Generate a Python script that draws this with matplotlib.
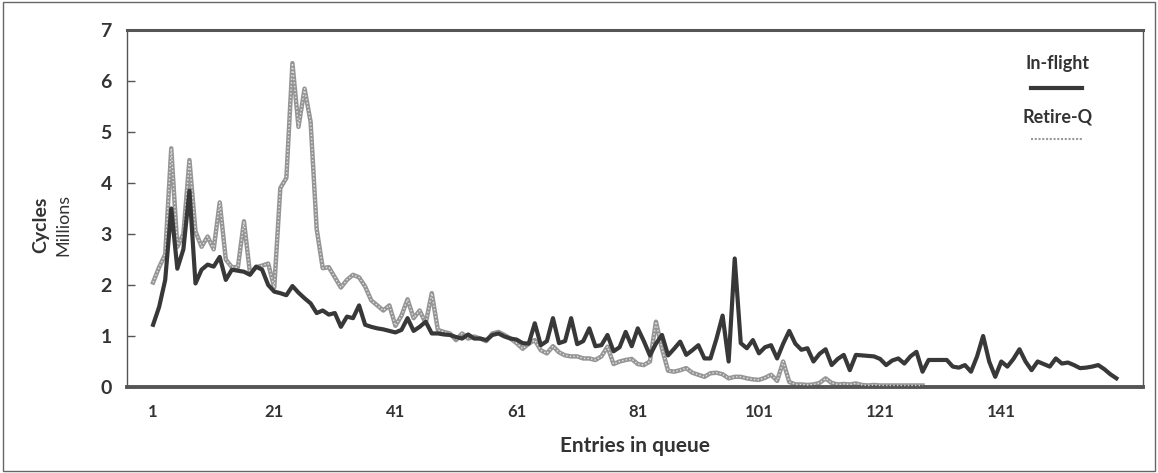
import matplotlib.pyplot as plt
from matplotlib.patches import Rectangle

# 큐 엔트리별 사이클 수 (단위: 백만)
in_flight = [
    1.22, 1.57, 2.1, 3.5, 2.32, 2.7, 3.85, 2.03, 2.3, 2.4,
    2.36, 2.55, 2.1, 2.3, 2.28, 2.26, 2.2, 2.36, 2.3, 2.0,
    1.87, 1.84, 1.8, 1.98, 1.85, 1.74, 1.64, 1.45, 1.5, 1.42,
    1.45, 1.18, 1.38, 1.35, 1.6, 1.22, 1.18, 1.15, 1.13, 1.1,
    1.07, 1.12, 1.35, 1.1, 1.18, 1.28, 1.05, 1.05, 1.03, 1.02,
    0.98, 0.95, 1.03, 0.95, 0.95, 0.92, 1.02, 1.05, 0.99, 0.95,
    0.93, 0.86, 0.85, 1.25, 0.82, 0.9, 1.35, 0.86, 0.9, 1.35,
    0.84, 0.9, 1.15, 0.8, 0.82, 1.02, 0.7, 0.78, 1.08, 0.8,
    1.15, 0.9, 0.62, 0.85, 1.02, 0.62, 0.75, 0.89, 0.63, 0.72,
    0.82, 0.56, 0.56, 0.95, 1.4, 0.5, 2.52, 0.86, 0.76, 0.92,
    0.66, 0.78, 0.82, 0.56, 0.85, 1.1, 0.85, 0.73, 0.76, 0.5,
    0.65, 0.74, 0.43, 0.55, 0.63, 0.33, 0.63, 0.62, 0.61, 0.6,
    0.55, 0.43, 0.52, 0.56, 0.46, 0.6, 0.69, 0.3, 0.53, 0.53,
    0.53, 0.53, 0.4, 0.38, 0.43, 0.3, 0.6, 1.0, 0.5, 0.2,
    0.5, 0.4, 0.55, 0.74, 0.5, 0.33, 0.5, 0.45, 0.4, 0.56,
    0.46, 0.48, 0.43, 0.37, 0.38, 0.4, 0.43, 0.35, 0.25, 0.17,
]
retire_q = [
    2.05, 2.35, 2.6, 4.68, 2.75, 3.0, 4.45, 3.05, 2.75, 2.95,
    2.7, 3.62, 2.5, 2.35, 2.35, 3.25, 2.22, 2.35, 2.38, 2.42,
    1.95, 3.9, 4.1, 6.35, 5.1, 5.85, 5.2, 3.1, 2.33, 2.35,
    2.15, 1.95, 2.1, 2.2, 2.15, 1.97, 1.7, 1.6, 1.5, 1.6,
    1.2, 1.4, 1.72, 1.35, 1.5, 1.25, 1.84, 1.12, 1.08, 1.05,
    0.92, 1.05, 0.95, 0.99, 0.95, 0.9, 1.05, 1.08, 1.02, 0.95,
    0.86, 0.75, 0.85, 0.92, 0.72, 0.66, 0.8, 0.68, 0.62, 0.6,
    0.6, 0.56, 0.56, 0.53, 0.6, 0.79, 0.45, 0.5, 0.53, 0.55,
    0.45, 0.43, 0.5, 1.28, 0.75, 0.32, 0.3, 0.33, 0.37, 0.28,
    0.24, 0.2, 0.27, 0.28, 0.25, 0.17, 0.2, 0.2, 0.17, 0.15,
    0.14, 0.18, 0.24, 0.12, 0.5, 0.1, 0.05, 0.05, 0.04, 0.05,
    0.08, 0.17, 0.08, 0.05, 0.06, 0.05, 0.07, 0.04, 0.03, 0.04,
    0.03, 0.03, 0.03, 0.03, 0.03, 0.03, 0.03, 0.03,
]
x_ticks = [1, 21, 41, 61, 81, 101, 121, 141]
y_ticks = [0, 1, 2, 3, 4, 5, 6, 7]

entries_in = list(range(1, len(in_flight) + 1))
entries_rq = list(range(1, len(retire_q) + 1))

plt.rcParams['font.family'] = ['Lato', 'DejaVu Sans']

fig = plt.figure(figsize=(11.58, 4.73), dpi=100)
ax = fig.add_axes([0.1097, 0.1818, 0.8774, 0.7548])

# Retire-Q: 회색 굵은 선 위에 흰 점선을 얹어 구슬 모양 표현
ax.plot(entries_rq, retire_q, color='#959595', lw=3.2, zorder=2)
ax.plot(entries_rq, retire_q, color='white', lw=1.0, alpha=0.75,
        linestyle=(0, (1, 1.6)), zorder=3)
# In-flight
ax.plot(entries_in, in_flight, color='#383838', lw=3.0, zorder=4)

ax.set_xlim(-3.3, 164.4)
ax.set_ylim(0, 7)
ax.set_xticks(x_ticks)
ax.set_yticks(y_ticks)
ax.tick_params(axis='y', direction='in', length=6, width=1, color='#555555',
               labelsize=14, pad=11)
ax.tick_params(axis='x', length=0, labelsize=12, pad=12)
for lab in ax.get_xticklabels() + ax.get_yticklabels():
    lab.set_fontweight('bold')
    lab.set_color('#333333')

for side, lw in [('bottom', 2.8), ('top', 2.2), ('left', 1.0), ('right', 1.0)]:
    ax.spines[side].set_linewidth(lw)
    ax.spines[side].set_color('#555555')

ax.set_xlabel('Entries in queue', fontsize=15, fontweight='bold',
              color='#333333', labelpad=12)

# 세로축 제목 두 줄
fig.text(0.035, 0.525, 'Cycles', rotation=90, fontsize=14, fontweight='bold',
         color='#333333', ha='center', va='center')
fig.text(0.055, 0.525, 'Millions', rotation=90, fontsize=13,
         color='#333333', ha='center', va='center')

# 범례 (텍스트 + 선 샘플)
tr = ax.transAxes
ax.text(0.916, 0.905, 'In-flight', transform=tr, fontsize=13, fontweight='bold',
        color='#333333', ha='center', va='center')
ax.plot([0.89, 0.94], [0.837, 0.837], transform=tr, color='#383838', lw=3)
ax.text(0.916, 0.756, 'Retire-Q', transform=tr, fontsize=13, fontweight='bold',
        color='#333333', ha='center', va='center')
ax.plot([0.89, 0.94], [0.695, 0.695], transform=tr, color='#9a9a9a', lw=1.5,
        linestyle=(0, (1, 0.8)))

# 그림 전체 테두리
fig.patches.append(Rectangle((0.003, 0.005), 0.994, 0.99, transform=fig.transFigure,
                             fill=False, edgecolor='#666666', lw=1.0))

fig.savefig('out.png', dpi=100, facecolor='white')
